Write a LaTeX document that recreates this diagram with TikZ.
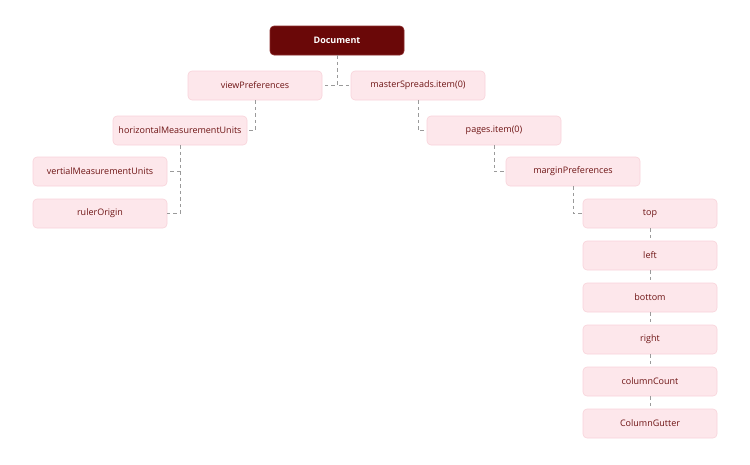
\documentclass[tikz,border=0pt]{standalone}
\usepackage{fontspec}
\setmainfont{Open Sans}
\usetikzlibrary{positioning}
\definecolor{rootred}{HTML}{6A0808}
\definecolor{rootline}{HTML}{8A2A2A}
\definecolor{leafpink}{HTML}{FDE7EB}
\definecolor{leafline}{HTML}{F8D3DA}
\definecolor{leaftext}{HTML}{6E1414}
\definecolor{linkgray}{HTML}{9A9A9A}
\begin{document}
\begin{tikzpicture}[x=1pt,y=-1pt,
every node/.style={rectangle,rounded corners=4pt,minimum width=134pt,minimum height=29pt,
  inner sep=0pt,font=\fontsize{9}{11}\selectfont},
leaf/.style={fill=leafpink,draw=leafline,line width=0.6pt,text=leaftext},
root/.style={fill=rootred,draw=rootline,line width=0.6pt,text=white,font=\fontsize{9}{11}\selectfont\bfseries},
link/.style={draw=linkgray,dashed,dash pattern=on 3.5pt off 3pt,line width=0.7pt}]
\useasboundingbox (0,0) rectangle (750,464);
\node[root] (doc) at (337,40.5) {Document};
\node[leaf] (view) at (255,85.5) {viewPreferences};
\node[leaf] (master) at (418,85.5) {masterSpreads.item(0)};
\node[leaf] (hmu) at (180,130.5) {horizontalMeasurementUnits};
\node[leaf] (pages) at (494,130.5) {pages.item(0)};
\node[leaf] (vmu) at (100,171.5) {vertialMeasurementUnits};
\node[leaf] (origin) at (100,213.5) {rulerOrigin};
\node[leaf] (margin) at (573,171.5) {marginPreferences};
\node[leaf] (top) at (650,213.5) {top};
\node[leaf] (left) at (650,255.5) {left};
\node[leaf] (bottom) at (650,297.5) {bottom};
\node[leaf] (right) at (650,339.5) {right};
\node[leaf] (count) at (650,381.5) {columnCount};
\node[leaf] (gutter) at (650,423.5) {ColumnGutter};
\draw[link] (doc.south) |- (view.east);
\draw[link] (doc.south) |- (master.west);
\draw[link] (view.south) |- (hmu.east);
\draw[link] (hmu.south) |- (vmu.east);
\draw[link] (hmu.south) |- (origin.east);
\draw[link] (master.south) |- (pages.west);
\draw[link] (pages.south) |- (margin.west);
\draw[link] (margin.south) |- (top.west);
\draw[link] (top)--(left)--(bottom)--(right)--(count)--(gutter);
\end{tikzpicture}
\end{document}
